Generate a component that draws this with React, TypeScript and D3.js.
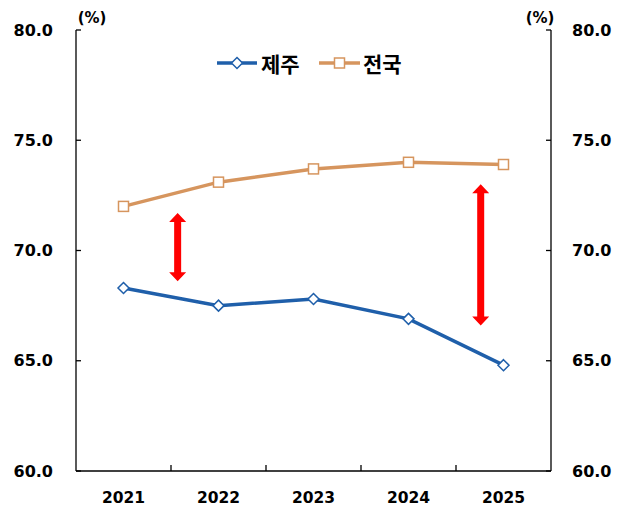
import React from "react";
import * as d3 from "d3";

const years = ["2021", "2022", "2023", "2024", "2025"];
const jeju = [68.3, 67.5, 67.8, 66.9, 64.8];
const national = [72.0, 73.1, 73.7, 74.0, 73.9];
const yTicks = [60, 65, 70, 75, 80];
const seriesNames = ["제주", "전국"];
const gapArrows = [
  { pos: 0.57, from: 71.7, to: 68.6 },
  { pos: 3.76, from: 73.0, to: 66.6 },
];

const W = 621, H = 507;
const L = 76, R = 551, T = 30, B = 471;
const BLUE = "#1F5FAA";
const ORANGE = "#D6955E";
const NUMFONT = "'DejaVu Sans', Verdana, sans-serif";
const KFONT = "'Noto Sans CJK KR', sans-serif";

export default function App() {
  const y = d3.scaleLinear().domain([60, 80]).range([B, T]);
  const xBand = d3.scaleBand<string>().domain(years).range([L, R]).padding(0);
  const cx = (i: number) => xBand(years[i])! + xBand.bandwidth() / 2;
  const xPos = d3.scaleLinear().domain([0, years.length - 1]).range([cx(0), cx(years.length - 1)]);
  const line = d3
    .line<number>()
    .x((_, i) => cx(i))
    .y((d) => y(d));

  const diamond = (px: number, py: number, r: number) =>
    `M${px},${py - r}L${px + r},${py}L${px},${py + r}L${px - r},${py}Z`;

  const arrow = (ax: number, y1: number, y2: number) => {
    const hw = 8.5, sw = 3.5, hh = 9;
    return `M${ax},${y1}L${ax + hw},${y1 + hh}L${ax + sw},${y1 + hh}L${ax + sw},${y2 - hh}L${ax + hw},${y2 - hh}L${ax},${y2}L${ax - hw},${y2 - hh}L${ax - sw},${y2 - hh}L${ax - sw},${y1 + hh}L${ax - hw},${y1 + hh}Z`;
  };

  const boundaries = years.slice(1).map((yr) => xBand(yr)!);

  return (
    <svg width={W} height={H} style={{ position: "absolute", left: 0, top: 0, background: "#fff" }}>
      {/* axes */}
      <line x1={L} y1={T} x2={L} y2={B} stroke="#000" strokeWidth={1.3} />
      <line x1={R} y1={T} x2={R} y2={B} stroke="#000" strokeWidth={1.3} />
      <line x1={L} y1={B} x2={R} y2={B} stroke="#000" strokeWidth={1.3} />
      {yTicks.map((t) => (
        <g key={t}>
          <line x1={L} x2={L + 5} y1={y(t)} y2={y(t)} stroke="#000" strokeWidth={1.3} />
          <line x1={R} x2={R - 5} y1={y(t)} y2={y(t)} stroke="#000" strokeWidth={1.3} />
          <text x={53} y={y(t)} textAnchor="end" dominantBaseline="central" fontFamily={NUMFONT} fontWeight="bold" fontSize={16}>
            {t.toFixed(1)}
          </text>
          <text x={572} y={y(t)} textAnchor="start" dominantBaseline="central" fontFamily={NUMFONT} fontWeight="bold" fontSize={16}>
            {t.toFixed(1)}
          </text>
        </g>
      ))}
      {boundaries.map((bx, i) => (
        <line key={i} x1={bx} x2={bx} y1={B} y2={B - 6} stroke="#000" strokeWidth={1.3} />
      ))}
      {years.map((yr, i) => (
        <text key={yr} x={cx(i)} y={503} textAnchor="middle" fontFamily={NUMFONT} fontWeight="bold" fontSize={15.5}>
          {yr}
        </text>
      ))}
      <text x={92} y={23} textAnchor="middle" fontFamily={NUMFONT} fontWeight="bold" fontSize={15}>(%)</text>
      <text x={540} y={23} textAnchor="middle" fontFamily={NUMFONT} fontWeight="bold" fontSize={15}>(%)</text>

      {/* arrows */}
      {gapArrows.map((a, i) => (
        <path key={i} d={arrow(xPos(a.pos), y(a.from), y(a.to))} fill="#FF0000" />
      ))}

      {/* lines */}
      <path d={line(national)!} fill="none" stroke={ORANGE} strokeWidth={3.5} />
      <path d={line(jeju)!} fill="none" stroke={BLUE} strokeWidth={3.5} />
      {national.map((v, i) => (
        <rect key={i} x={cx(i) - 5} y={y(v) - 5} width={10} height={10} fill="#fff" stroke={ORANGE} strokeWidth={1.5} />
      ))}
      {jeju.map((v, i) => (
        <path key={i} d={diamond(cx(i), y(v), 5.5)} fill="#fff" stroke={BLUE} strokeWidth={1.5} />
      ))}

      {/* legend */}
      <g>
        <line x1={217} x2={257} y1={63} y2={63} stroke={BLUE} strokeWidth={3.5} />
        <path d={diamond(237, 63, 5.5)} fill="#fff" stroke={BLUE} strokeWidth={1.5} />
        <text x={261} y={63} dominantBaseline="central" fontFamily={KFONT} fontWeight="bold" fontSize={21}>
          {seriesNames[0]}
        </text>
        <line x1={319} x2={360} y1={63} y2={63} stroke={ORANGE} strokeWidth={3.5} />
        <rect x={334.5} y={58} width={10} height={10} fill="#fff" stroke={ORANGE} strokeWidth={1.5} />
        <text x={363} y={63} dominantBaseline="central" fontFamily={KFONT} fontWeight="bold" fontSize={21}>
          {seriesNames[1]}
        </text>
      </g>
    </svg>
  );
}
